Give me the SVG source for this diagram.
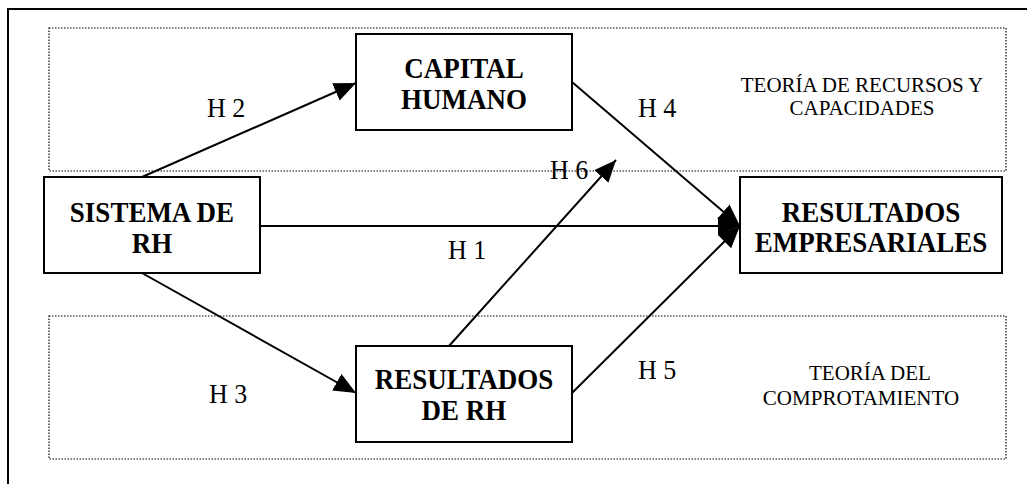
<svg xmlns="http://www.w3.org/2000/svg" width="1027" height="484" viewBox="0 0 1027 484">
<style>
.frame{fill:none;stroke:#000;stroke-width:2}
.zone{fill:none;stroke:#000;stroke-width:1.2;stroke-dasharray:1.5 1.5}
.box{fill:#fff;stroke:#000;stroke-width:2}
.node{font-family:"Liberation Serif","Times New Roman",serif;font-weight:bold;font-size:27px;fill:#000;text-anchor:middle}
.lbl{font-family:"Liberation Serif","Times New Roman",serif;font-size:26px;fill:#000}
.node,.lbl{transform-box:fill-box;transform-origin:50% 78%;transform:scaleY(1.08)}
.theory{font-family:"Liberation Serif","Times New Roman",serif;font-size:21px;fill:#000;text-anchor:middle}
.conn{fill:none;stroke:#000;stroke-width:2;marker-end:url(#ah)}
</style>
<defs>
<marker id="ah" markerUnits="userSpaceOnUse" markerWidth="23" markerHeight="19" viewBox="0 0 23 19" refX="22" refY="9.5" orient="auto">
<path d="M0,0 L22,9.5 L0,19 z" fill="#000"/>
</marker>
</defs>
<rect width="1027" height="484" fill="#fff"/>
<rect class="frame" x="8" y="9" width="1100" height="600"/>
<g id="zone-recursos">
<rect class="zone" x="49" y="28" width="957" height="143"/>
<text class="theory" x="862" y="92">TEORÍA DE RECURSOS Y</text>
<text class="theory" x="862" y="115">CAPACIDADES</text>
</g>
<g id="zone-comportamiento">
<rect class="zone" x="49" y="316" width="957" height="143"/>
<text class="theory" x="870" y="380">TEORÍA DEL</text>
<text class="theory" x="861" y="405">COMPROTAMIENTO</text>
</g>
<g id="connectors">
<line class="conn" x1="142" y1="177" x2="356" y2="83"/>
<line class="conn" x1="142" y1="273" x2="356" y2="393"/>
<line class="conn" x1="260" y1="226" x2="740" y2="226"/>
<line class="conn" x1="572" y1="82" x2="740" y2="226"/>
<line class="conn" x1="572" y1="393" x2="740" y2="226"/>
<line class="conn" x1="449" y1="346" x2="616" y2="160"/>
<text class="lbl" x="207" y="117">H 2</text>
<text class="lbl" x="209" y="403">H 3</text>
<text class="lbl" x="448" y="259">H 1</text>
<text class="lbl" x="638" y="117">H 4</text>
<text class="lbl" x="638" y="379">H 5</text>
<text class="lbl" x="550" y="179">H 6</text>
</g>
<g id="capital-humano">
<rect class="box" x="356" y="34" width="216" height="96"/>
<text class="node" x="464" y="78">CAPITAL</text>
<text class="node" x="464" y="109">HUMANO</text>
</g>
<g id="sistema-rh">
<rect class="box" x="44" y="177" width="216" height="96"/>
<text class="node" x="152" y="222">SISTEMA DE</text>
<text class="node" x="152" y="253">RH</text>
</g>
<g id="resultados-empresariales">
<rect class="box" x="740" y="177" width="262" height="96"/>
<text class="node" x="871" y="222">RESULTADOS</text>
<text class="node" x="871" y="252">EMPRESARIALES</text>
</g>
<g id="resultados-rh">
<rect class="box" x="356" y="346" width="216" height="96"/>
<text class="node" x="464" y="389">RESULTADOS</text>
<text class="node" x="464" y="420">DE RH</text>
</g>
</svg>
